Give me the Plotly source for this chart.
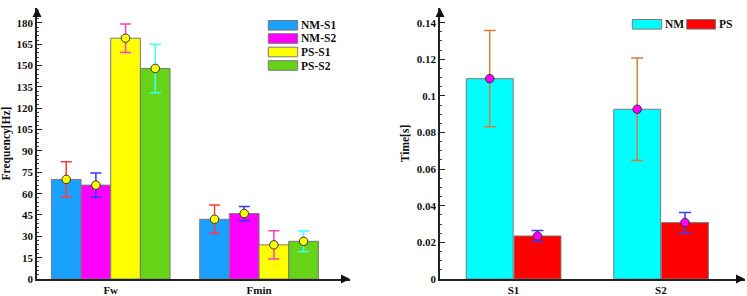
import plotly.graph_objects as go

# ---------------- data ----------------
freq_categories = ["Fw", "Fmin"]
freq_series = ["NM-S1", "NM-S2", "PS-S1", "PS-S2"]
freq_nm_s1 = [70.0, 42.0]
freq_nm_s2 = [66.0, 46.0]
freq_ps_s1 = [169.3, 24.0]
freq_ps_s2 = [148.0, 26.5]
freq_nm_s1_err = [12.5, 10.0]
freq_nm_s2_err = [8.5, 5.0]
freq_ps_s1_err = [10.0, 10.0]
freq_ps_s2_err = [17.0, 7.3]
freq_ticks = [0, 15, 30, 45, 60, 75, 90, 105, 120, 135, 150, 165, 180]

time_categories = ["S1", "S2"]
time_series = ["NM", "PS"]
time_nm = [0.1094, 0.0927]
time_ps = [0.0235, 0.0308]
time_nm_err = [0.0263, 0.0280]
time_ps_err = [0.0030, 0.0055]
time_ticks = [0, 0.02, 0.04, 0.06, 0.08, 0.1, 0.12, 0.14]
time_ticktext = ["0", "0.02", "0.04", "0.06", "0.08", "0.1", "0.12", "0.14"]

# ---------------- style ----------------
FONT = "Liberation Serif"
W, H = 747, 296
freq_colors = ["#1AA0FF", "#FF00FF", "#FFFF00", "#66D218"]
freq_err_colors = ["#FF3B3B", "#3434FF", "#FF3CC8", "#3CFFFF"]
time_colors = ["#00FFFF", "#FF0000"]
time_err_colors = ["#D2803E", "#3B3BFF"]
OUTLINE = "#7a7a7a"

fig = go.Figure()

# left chart
freq_vals = [freq_nm_s1, freq_nm_s2, freq_ps_s1, freq_ps_s2]
freq_errs = [freq_nm_s1_err, freq_nm_s2_err, freq_ps_s1_err, freq_ps_s2_err]
bw_l = 0.2
offs_l = [-0.3, -0.1, 0.1, 0.3]
for j, name in enumerate(freq_series):
    xs = [i + offs_l[j] for i in range(len(freq_categories))]
    fig.add_trace(go.Bar(x=xs, y=freq_vals[j], width=bw_l, name=name,
                         marker=dict(color=freq_colors[j], line=dict(color=OUTLINE, width=1)),
                         xaxis="x", yaxis="y", showlegend=False))
for j, name in enumerate(freq_series):
    xs = [i + offs_l[j] for i in range(len(freq_categories))]
    fig.add_trace(go.Scatter(x=xs, y=freq_vals[j], mode="markers", name=name,
                             marker=dict(color="#FFFF00", size=8.5, line=dict(color="#333333", width=1)),
                             error_y=dict(type="data", array=freq_errs[j], color=freq_err_colors[j],
                                          thickness=1.5, width=5.5),
                             xaxis="x", yaxis="y", showlegend=False))

# right chart
time_vals = [time_nm, time_ps]
time_errs = [time_nm_err, time_ps_err]
bw_r = 0.318
offs_r = [-0.161, 0.163]
for j, name in enumerate(time_series):
    xs = [i + offs_r[j] for i in range(len(time_categories))]
    fig.add_trace(go.Bar(x=xs, y=time_vals[j], width=bw_r, name=name,
                         marker=dict(color=time_colors[j], line=dict(color=OUTLINE, width=1)),
                         xaxis="x2", yaxis="y2", showlegend=False))
for j, name in enumerate(time_series):
    xs = [i + offs_r[j] for i in range(len(time_categories))]
    fig.add_trace(go.Scatter(x=xs, y=time_vals[j], mode="markers", name=name,
                             marker=dict(color="#FF00FF", size=8.5, line=dict(color="#333333", width=1)),
                             error_y=dict(type="data", array=time_errs[j], color=time_err_colors[j],
                                          thickness=1.5, width=6),
                             xaxis="x2", yaxis="y2", showlegend=False))

tickfont = dict(family=FONT, size=11, color="#111111")
axis_common = dict(showgrid=False, zeroline=False, showline=True, linecolor="#222222", linewidth=1.5,
                   automargin=False)

y0p = 17 / H
ytop = 288 / H
fig.update_layout(
    width=W, height=H, margin=dict(l=0, r=0, t=0, b=0),
    paper_bgcolor="white", plot_bgcolor="white",
    barmode="overlay", showlegend=False,
    font=dict(family=FONT, size=11, color="#111111"),
    xaxis=dict(domain=[37 / W, 350 / W], range=[-0.497, 1.613], tickvals=list(range(len(freq_categories))),
               ticktext=["<b>%s</b>" % c for c in freq_categories], ticks="", tickfont=tickfont,
               anchor="y", **axis_common),
    yaxis=dict(domain=[y0p, ytop], range=[0, 190.5], tickvals=freq_ticks,
               ticktext=["<b>%d</b>" % t for t in freq_ticks], ticks="inside", ticklen=5,
               tickcolor="#222222", tickfont=tickfont,
               minor=dict(ticks="inside", ticklen=2.5, dtick=3, tickcolor="#444444"),
               title=dict(text="<b>Frequency[Hz]</b>", font=dict(family=FONT, size=11.5), standoff=7),
               anchor="x", **axis_common),
    xaxis2=dict(domain=[440 / W, 745 / W], range=[-0.498, 1.57], tickvals=list(range(len(time_categories))),
                ticktext=["<b>%s</b>" % c for c in time_categories], ticks="", tickfont=tickfont,
                anchor="y2", **axis_common),
    yaxis2=dict(domain=[y0p, ytop], range=[0, 0.148], tickvals=time_ticks,
                ticktext=["<b>%s</b>" % t for t in time_ticktext], ticks="inside", ticklen=5,
                tickcolor="#222222", tickfont=tickfont,
                minor=dict(ticks="inside", ticklen=2.5, dtick=0.005, tickcolor="#444444"),
                title=dict(text="<b>Time[s]</b>", font=dict(family=FONT, size=11.5), standoff=5),
                anchor="x2", **axis_common),
)

# axis arrows
for xr, yr in [("x", "y"), ("x2", "y2")]:
    fig.add_annotation(x=1, y=0, xref=xr + " domain", yref=yr + " domain", ax=-7, ay=0,
                       showarrow=True, arrowhead=2, arrowsize=1.2, arrowwidth=1.5,
                       arrowcolor="#111111", text="")
    fig.add_annotation(x=0, y=1, xref=xr + " domain", yref=yr + " domain", ax=0, ay=7,
                       showarrow=True, arrowhead=2, arrowsize=1.2, arrowwidth=1.5,
                       arrowcolor="#111111", text="")

# legends (drawn boxes + text)
leg_l_y = [25.3, 38.5, 52.0, 65.5]
for j, name in enumerate(freq_series):
    yc = leg_l_y[j]
    fig.add_shape(type="rect", xref="paper", yref="paper",
                  x0=268.3 / W, x1=297.7 / W, y0=1 - (yc + 4.8) / H, y1=1 - (yc - 4.8) / H,
                  fillcolor=freq_colors[j], line=dict(color=OUTLINE, width=1))
    fig.add_annotation(x=299 / W, y=1 - yc / H, xref="paper", yref="paper", xanchor="left",
                       yanchor="middle", text="<b>%s</b>" % name, showarrow=False,
                       font=dict(family=FONT, size=11.5, color="#111111"))

leg_r_x = [(632.3, 661.7), (686.7, 715.5)]
for j, name in enumerate(time_series):
    yc = 24.3
    x0, x1 = leg_r_x[j]
    fig.add_shape(type="rect", xref="paper", yref="paper",
                  x0=x0 / W, x1=x1 / W, y0=1 - (yc + 4.8) / H, y1=1 - (yc - 4.8) / H,
                  fillcolor=time_colors[j], line=dict(color=OUTLINE, width=1))
    fig.add_annotation(x=(x1 + 1.5) / W, y=1 - yc / H, xref="paper", yref="paper", xanchor="left",
                       yanchor="middle", text="<b>%s</b>" % name, showarrow=False,
                       font=dict(family=FONT, size=11.5, color="#111111"))

fig.write_html("out.html", config={"displayModeBar": False},
               post_script="document.body.style.margin='0';")
